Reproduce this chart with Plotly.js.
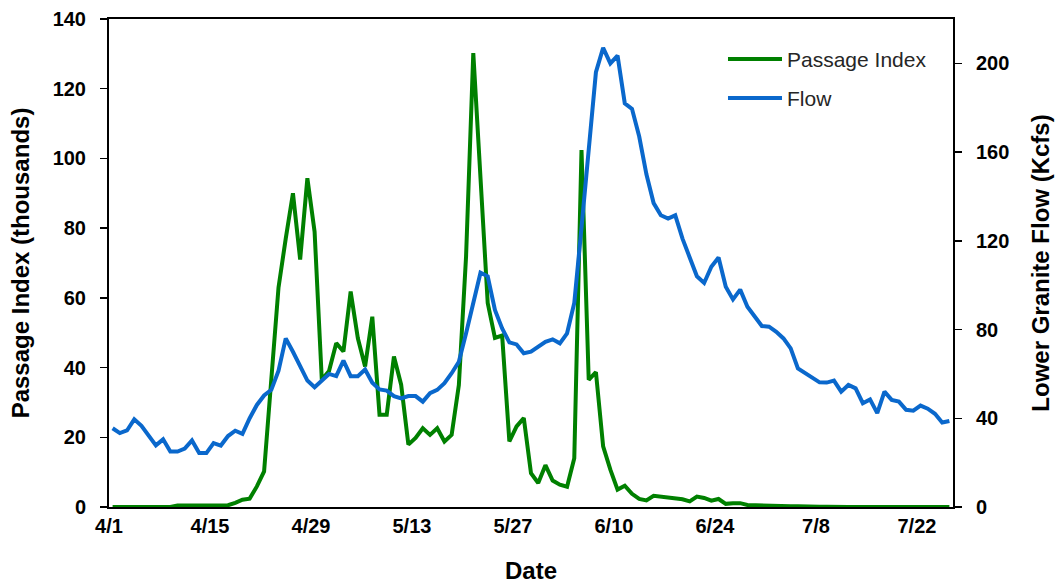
<!DOCTYPE html>
<html>
<head>
<meta charset="utf-8">
<script src="https://cdn.plot.ly/plotly-3.0.1.min.js"></script>
<style>
  html, body { margin: 0; padding: 0; background: #fff; }
  #chart { width: 1061px; height: 584px; }
</style>
</head>
<body>
<div id="chart"></div>
<script>
// Daily series from 4/1 (index 0) to 7/27 (index 116)
const startDate = '2018-04-01';

const passageIndex = [
  0, 0, 0, 0, 0, 0, 0, 0, 0, 0.4,
  0.4, 0.4, 0.4, 0.4, 0.4, 0.4, 0.5, 1.2, 2.1, 2.4,
  5.9, 10.2, 36, 63, 77, 90, 71, 94.3, 79, 36.5,
  39, 47, 44.6, 61.8, 48.4, 40.3, 54.6, 26.5, 26.5, 43.2,
  35.1, 17.9, 19.8, 22.6, 20.7, 22.6, 18.8, 20.7, 35, 72,
  130.2, 94, 58.5, 48.5, 49.2, 18.8, 23.1, 25.5, 9.7, 6.9,
  12, 7.6, 6.4, 5.8, 14, 102.4, 36.5, 38.7, 17.4, 10.7,
  5, 6.1, 3.8, 2.3, 1.9, 3.2, 2.9, 2.7, 2.4, 2.2,
  1.6, 3, 2.6, 1.8, 2.3, 0.9, 1.1, 1.1, 0.6, 0.5,
  0.4, 0.3, 0.3, 0.2, 0.2, 0.2, 0.1, 0.1, 0.1, 0.1,
  0, 0, 0, 0, 0, 0, 0, 0, 0, 0,
  0, 0, 0, 0, 0, 0, 0
];

const flowKcfs = [
  35.5, 33.3, 34.5, 39.5, 36.6, 31.8, 27.8, 30.5, 25, 25,
  26.3, 30, 24.3, 24.3, 28.8, 27.7, 32, 34.4, 33, 40,
  46, 50.3, 52.8, 61.5, 76, 70, 63, 57, 54, 57,
  60, 59, 66, 59, 59, 62, 56, 53, 52.5, 50,
  49, 50, 50, 47.5, 51.3, 52.8, 55.8, 60.3, 65.5, 78.3,
  92, 105.6, 104, 88.8, 80.5, 74.2, 73.3, 69.3, 70, 72,
  74.5, 75.6, 73.8, 78.3, 92, 126, 160, 196, 207, 200,
  203.5, 182, 179.5, 167, 150, 137, 131.5, 130, 131.5, 121,
  112.5, 104, 101, 108.3, 112.5, 99.3, 93.6, 98, 90.3, 86.1,
  81.6, 81.3, 79, 76, 71.5, 62.5, 60.3, 58, 56.2, 56.1,
  57, 52, 55, 53.5, 46.8, 48.5, 42.3, 52, 48.3, 47.5,
  43.8, 43.4, 45.7, 44.3, 42, 38.1, 38.8
];

const xTickVals = ['2018-04-01','2018-04-08','2018-04-15','2018-04-22','2018-04-29','2018-05-06',
  '2018-05-13','2018-05-20','2018-05-27','2018-06-03','2018-06-10','2018-06-17','2018-06-24',
  '2018-07-01','2018-07-08','2018-07-15','2018-07-22'];
const xTickText = ['4/1','','4/15','','4/29','','5/13','','5/27','','6/10','','6/24','','7/8','','7/22'];
const leftTicks = [0, 20, 40, 60, 80, 100, 120, 140];
const rightTicks = [0, 40, 80, 120, 160, 200];
const seriesNames = ['Passage Index', 'Flow'];

// each daily value is plotted at the middle of its day
const t0 = Date.parse(startDate + 'T12:00:00Z');
const dates = flowKcfs.map((_, i) => new Date(t0 + i * 86400000).toISOString().slice(0, 19).replace('T', ' '));

const FONT = 'Liberation Sans, Arial, sans-serif';
const GREEN = '#008000';
const BLUE = '#0a68cc';

const traces = [
  { x: dates, y: passageIndex, name: seriesNames[0], type: 'scatter', mode: 'lines',
    line: { color: GREEN, width: 4 }, xaxis: 'x', yaxis: 'y' },
  { x: dates, y: flowKcfs, name: seriesNames[1], type: 'scatter', mode: 'lines',
    line: { color: BLUE, width: 4 }, xaxis: 'x', yaxis: 'y2' }
];

const tickFont = { family: FONT, size: 20, color: '#000', weight: 'bold' };
const titleFont = { family: FONT, size: 24, color: '#000', weight: 'bold' };
const xRange = ['2018-04-01', '2018-07-27'];

function tickAxis(base, dir, len) {
  return Object.assign({}, base, {
    ticks: dir, ticklen: len, tickwidth: 1.5, tickcolor: '#000', showticklabels: false,
    showline: false, showgrid: false, zeroline: false
  });
}

const layout = {
  width: 1061, height: 584,
  margin: { l: 109, r: 108, t: 19, b: 77 },
  paper_bgcolor: '#fff', plot_bgcolor: '#fff',
  showlegend: false,
  xaxis: {
    type: 'date', range: xRange, tickmode: 'array', tickvals: xTickVals, ticktext: xTickText,
    ticks: '', showline: true, linecolor: '#000', linewidth: 2, mirror: true,
    showgrid: false, zeroline: false, tickfont: tickFont, ticklabelstandoff: 0,
    title: { text: 'Date', font: titleFont, standoff: 28 }
  },
  xaxis2: tickAxis({ type: 'date', range: xRange, overlaying: 'x', anchor: 'y', tickmode: 'array', tickvals: xTickVals }, 'inside', 6),
  xaxis3: tickAxis({ type: 'date', range: xRange, overlaying: 'x', anchor: 'y', tickmode: 'array', tickvals: xTickVals }, 'outside', 6),
  yaxis: {
    range: [0, 140], tickmode: 'array', tickvals: leftTicks,
    ticks: 'outside', ticklen: 7, tickwidth: 1.5, tickcolor: '#000',
    showline: true, linecolor: '#000', linewidth: 2,
    showgrid: false, zeroline: false, tickfont: tickFont, ticklabelstandoff: 10,
    title: { text: 'Passage Index (thousands)', font: titleFont, standoff: 16 }
  },
  yaxis3: tickAxis({ range: [0, 140], overlaying: 'y', side: 'left', anchor: 'x', tickmode: 'array', tickvals: leftTicks }, 'inside', 7),
  yaxis2: {
    range: [0, 220], overlaying: 'y', side: 'right', anchor: 'x', tickmode: 'array', tickvals: rightTicks,
    ticks: 'outside', ticklen: 7, tickwidth: 1.5, tickcolor: '#000',
    showline: true, linecolor: '#000', linewidth: 2,
    showgrid: false, zeroline: false, tickfont: tickFont, ticklabelstandoff: 10,
    title: { text: 'Lower Granite Flow (Kcfs)', font: titleFont, standoff: 24 }
  },
  yaxis4: tickAxis({ range: [0, 220], overlaying: 'y', side: 'right', anchor: 'x', tickmode: 'array', tickvals: rightTicks }, 'inside', 7),
  shapes: [
    { type: 'line', xref: 'paper', yref: 'paper', x0: 0.7334, x1: 0.7974, y0: 0.918, y1: 0.918,
      line: { color: GREEN, width: 4 } },
    { type: 'line', xref: 'paper', yref: 'paper', x0: 0.7334, x1: 0.7974, y0: 0.838, y1: 0.838,
      line: { color: BLUE, width: 4 } }
  ],
  annotations: [
    { xref: 'paper', yref: 'paper', x: 0.8015, y: 0.918, xanchor: 'left', yanchor: 'middle',
      text: seriesNames[0], showarrow: false, font: { family: FONT, size: 21, color: '#262626' } },
    { xref: 'paper', yref: 'paper', x: 0.8015, y: 0.838, xanchor: 'left', yanchor: 'middle',
      text: seriesNames[1], showarrow: false, font: { family: FONT, size: 21, color: '#262626' } }
  ]
};

Plotly.newPlot('chart', traces, layout, { displayModeBar: false, staticPlot: true });
</script>
</body>
</html>
